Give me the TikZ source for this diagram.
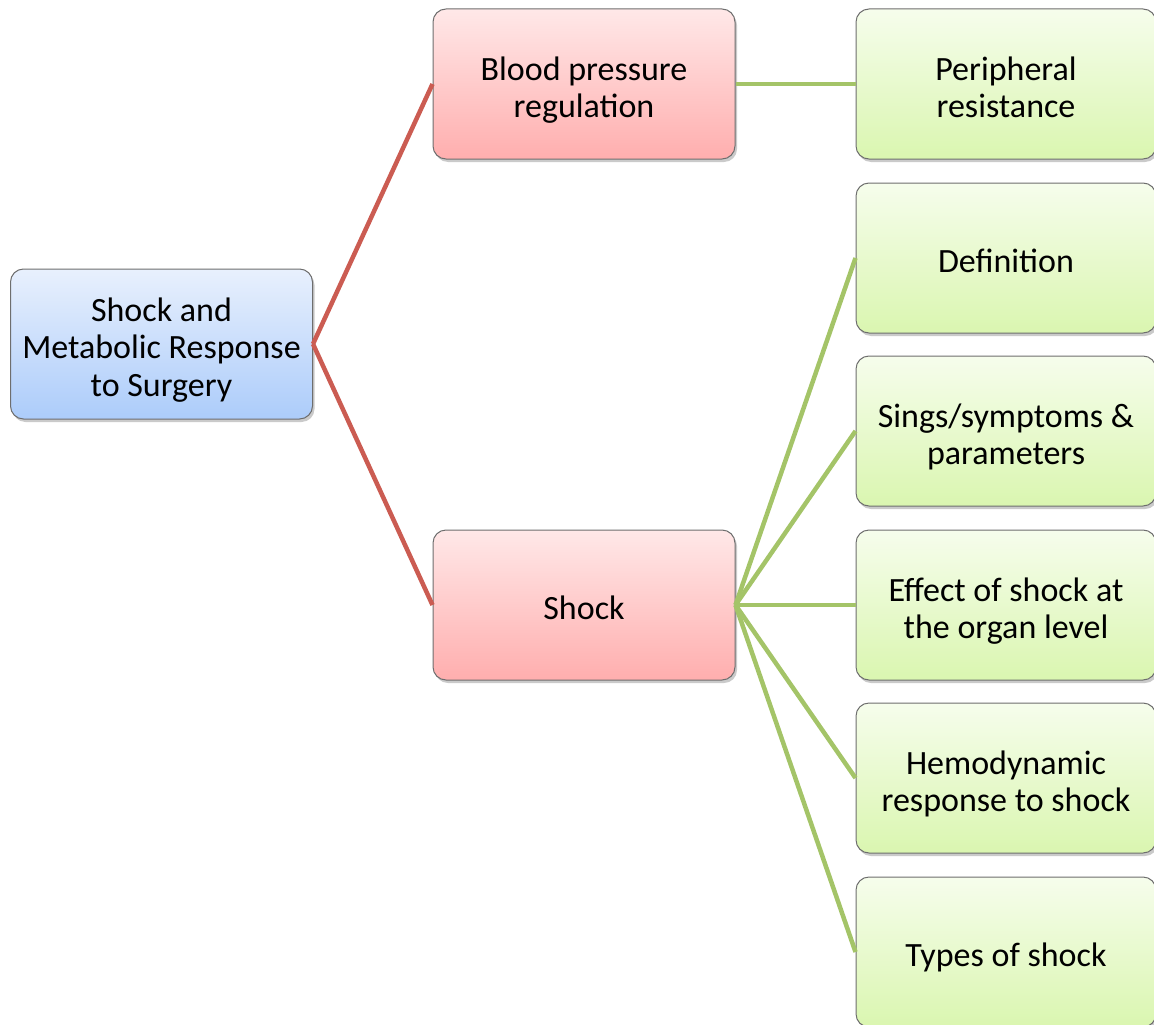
\documentclass[tikz,border=0pt]{standalone}
\usepackage{fontspec}
\setmainfont{Carlito}
\usetikzlibrary{shadows}
\definecolor{bluetop}{RGB}{232,240,253}
\definecolor{bluebot}{RGB}{172,204,250}
\definecolor{pinktop}{RGB}{255,232,232}
\definecolor{pinkbot}{RGB}{255,174,174}
\definecolor{greentop}{RGB}{246,253,236}
\definecolor{greenbot}{RGB}{218,246,176}
\definecolor{bordergray}{RGB}{110,110,110}
\definecolor{redline}{RGB}{203,92,82}
\definecolor{greenline}{RGB}{164,196,104}
\newcommand\boxtext[1]{\raisebox{-13.5pt}[0pt][0pt]{\begin{tabular}{@{}c@{}}#1\end{tabular}}}
\tikzset{
  box/.style={draw=bordergray, line width=1pt, rounded corners=13pt, minimum width=302pt, minimum height=150pt,
    font=\fontsize{34}{37.5}\selectfont, inner xsep=1pt, inner ysep=2pt,
    drop shadow={shadow xshift=2pt, shadow yshift=-3pt, opacity=0.35, fill=black!60}},
  rootbox/.style={box, top color=bluetop, bottom color=bluebot},
  pinkbox/.style={box, top color=pinktop, bottom color=pinkbot},
  greenbox/.style={box, top color=greentop, bottom color=greenbot, minimum width=300pt},
  redconn/.style={draw=redline, line width=4.5pt},
  greenconn/.style={draw=greenline, line width=4.5pt}
}
\begin{document}
\begin{tikzpicture}[x=1pt,y=-1pt]
\useasboundingbox (0,0) rectangle (1154,1025);
\node[rootbox] (root) at (161.5,344) {\boxtext{Shock and\\Metabolic Response\\to Surgery}};
\node[pinkbox] (bp) at (584,84) {\boxtext{Blood pressure\\regulation}};
\node[pinkbox] (shock) at (584,605) {\boxtext{Shock}};
\node[greenbox] (pr) at (1006,84) {\boxtext{Peripheral\\resistance}};
\node[greenbox] (def) at (1006,258) {\boxtext{Definition}};
\node[greenbox] (sign) at (1006,431) {\boxtext{Sings/symptoms \&\\parameters}};
\node[greenbox] (eff) at (1006,605) {\boxtext{Effect of shock at\\the organ level}};
\node[greenbox] (hemo) at (1006,778) {\boxtext{Hemodynamic\\response to shock}};
\node[greenbox] (types) at (1006,952) {\boxtext{Types of shock}};
\draw[redconn] (root.east) -- (bp.west);
\draw[redconn] (root.east) -- (shock.west);
\draw[greenconn] (bp.east) -- (pr.west);
\foreach \t in {def,sign,eff,hemo,types}
  \draw[greenconn] (shock.east) -- (\t.west);
\end{tikzpicture}
\end{document}
